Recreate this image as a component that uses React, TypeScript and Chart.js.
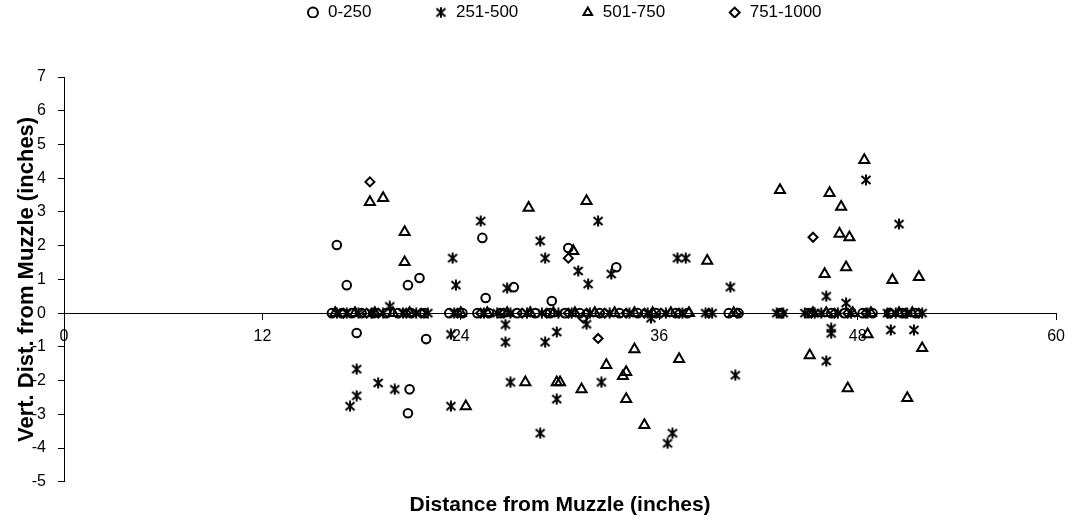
import { useEffect, useRef } from 'react';
import { Chart, registerables } from 'chart.js';

Chart.register(...registerables);

const seriesNames = ['0-250', '251-500', '501-750', '751-1000'];
const xTickStep = 12;
const xRange = [0, 60];
const yRange = [-5, 7];
const xTitle = 'Distance from Muzzle (inches)';
const yTitle = 'Vert. Dist. from Muzzle (inches)';

// 0-250 (circles)
const circleX = [16.5, 17.1, 17.7, 20.8, 21.5, 21.9, 20.9, 20.8, 25.3, 25.5, 27.2, 29.5, 30.5, 33.4,
  16.2, 16.8, 17.4, 18.0, 18.7, 19.5, 20.2, 21.0, 21.8, 23.3, 24.1, 25.0, 25.7, 26.4, 27.4, 28.5, 29.4, 30.3,
  31.2, 32.4, 33.6, 34.7, 35.8, 37.0, 37.7, 40.2, 40.8, 43.3, 45.0, 46.4, 47.2, 48.3, 48.9, 49.9, 50.7, 51.5];
const circleY = [2.02, 0.83, -0.59, 0.83, 1.04, -0.77, -2.26, -2.97, 2.23, 0.45, 0.77, 0.36, 1.93, 1.36,
  0, 0, 0, 0, 0, 0, 0, 0, 0, 0, 0, 0, 0, 0, 0, 0, 0, 0,
  0, 0, 0, 0, 0, 0, 0, 0, 0, 0, 0, 0, 0, 0, 0, 0, 0, 0];

// 251-500 (stars)
const starX = [19.7, 23.5, 23.7, 25.2, 23.4, 26.8, 26.7, 26.7, 27.0, 17.7, 19.0, 20.0, 17.7, 17.3, 23.4,
  28.8, 29.1, 32.3, 31.1, 31.7, 33.1, 37.1, 37.6, 40.3, 29.8, 29.1, 31.6, 29.8, 32.5, 28.8, 36.8, 36.5,
  40.6, 35.5, 48.5, 50.5, 46.1, 47.3, 46.4, 46.4, 46.1, 50.0, 51.4,
  16.5, 17.1, 17.8, 18.6, 19.3, 20.5, 21.3, 22.0, 23.6, 25.4, 26.2, 27.0, 28.0, 28.9, 29.9, 30.7, 31.8, 33.0,
  34.2, 35.3, 36.4, 37.4, 38.8, 39.2, 43.1, 43.5, 44.8, 45.4, 45.8, 46.8, 47.6, 48.6, 49.8, 50.3, 51.0, 51.9];
const starY = [0.2, 1.63, 0.83, 2.73, -0.63, 0.74, -0.34, -0.86, -2.05, -1.66, -2.07, -2.26, -2.45, -2.76, -2.76,
  2.14, 1.63, 2.73, 1.25, 0.86, 1.16, 1.63, 1.63, 0.77, -0.56, -0.86, -0.33, -2.55, -2.05, -3.56, -3.56, -3.86,
  -1.84, -0.15, 3.95, 2.64, 0.5, 0.3, -0.45, -0.6, -1.42, -0.5, -0.5,
  0, 0, 0, 0, 0, 0, 0, 0, 0, 0, 0, 0, 0, 0, 0, 0, 0, 0,
  0, 0, 0, 0, 0, 0, 0, 0, 0, 0, 0, 0, 0, 0, 0, 0, 0, 0];

// 501-750 (triangles)
const triX = [18.5, 19.3, 20.6, 20.6, 24.3, 28.1, 31.6, 30.8, 34.5, 32.8, 37.2, 34.0, 33.8, 27.9, 29.8, 30.0,
  31.3, 34.0, 35.1, 38.9, 43.3, 48.4, 46.3, 47.0, 46.9, 47.5, 47.3, 46.0, 50.1, 51.7, 45.1, 47.4, 51.0, 51.9, 48.6,
  16.4, 17.6, 18.8, 19.9, 20.9, 24.0, 25.6, 26.8, 28.2, 29.6, 30.9, 32.1, 33.3, 34.5, 35.6, 36.7, 37.8, 40.5,
  45.3, 46.1, 47.7, 48.8, 50.5, 51.3];
const triY = [3.29, 3.41, 2.4, 1.51, -2.76, 3.12, 3.32, 1.84, -1.07, -1.54, -1.36, -1.75, -1.87, -2.05, -2.05, -2.05,
  -2.26, -2.55, -3.32, 1.55, 3.65, 4.54, 3.56, 3.15, 2.35, 2.25, 1.36, 1.16, 0.98, 1.07, -1.25, -2.23, -2.52, -1.04, -0.63,
  0, 0, 0, 0, 0, 0, 0, 0, 0, 0, 0, 0, 0, 0, 0, 0, 0, 0,
  0, 0, 0, 0, 0, 0];

// 751-1000 (diamonds)
const diaX = [18.5, 30.5, 32.3, 31.4, 45.3,
  16.9, 18.3, 19.0, 20.7, 21.6, 23.8, 25.2, 26.6, 27.7, 29.2, 30.5, 31.6, 32.7, 34.0, 35.1, 36.1, 37.2, 39.0,
  40.7, 43.4, 45.2, 46.6, 47.4, 48.5, 50.0, 50.9, 51.7];
const diaY = [3.89, 1.63, -0.75, -0.15, 2.25,
  0, 0, 0, 0, 0, 0, 0, 0, 0, 0, 0, 0, 0, 0, 0, 0, 0, 0,
  0, 0, 0, 0, 0, 0, 0, 0, 0];

const FONT = "'Liberation Sans', Arial, Helvetica, sans-serif";

function pts(xs: number[], ys: number[]) {
  return xs.map((x, i) => ({ x, y: ys[i] }));
}

function makeStar(): HTMLCanvasElement {
  const c = document.createElement('canvas');
  c.width = 12;
  c.height = 12;
  const g = c.getContext('2d')!;
  g.strokeStyle = '#000';
  g.lineWidth = 2;
  g.beginPath();
  g.moveTo(1.5, 2); g.lineTo(10.5, 10);
  g.moveTo(10.5, 2); g.lineTo(1.5, 10);
  g.moveTo(6, 0.5); g.lineTo(6, 11.5);
  g.stroke();
  return c;
}

const legendShift = {
  id: 'legendShift',
  afterLayout(chart: any) {
    const lg = chart.legend;
    if (!lg) return;
    lg.left += 35;
    lg.right += 35;
    lg.top -= 59;
    lg.bottom -= 59;
  },
};

export default function App() {
  const ref = useRef<HTMLCanvasElement>(null);
  useEffect(() => {
    if (!ref.current) return;
    const star = makeStar();
    const common = {
      borderColor: '#000',
      backgroundColor: 'rgba(0,0,0,0)',
      borderWidth: 2,
      showLine: false,
    };
    const chart = new Chart(ref.current, {
      type: 'scatter',
      data: {
        datasets: [
          { ...common, label: seriesNames[0], data: pts(circleX, circleY), pointStyle: 'circle', pointRadius: 4.3 },
          { ...common, label: seriesNames[1], data: pts(starX, starY), pointStyle: star as any, pointRadius: 5 },
          { ...common, label: seriesNames[2], data: pts(triX, triY), pointStyle: 'triangle', pointRadius: 5.8 },
          { ...common, label: seriesNames[3], data: pts(diaX, diaY), pointStyle: 'rectRot', pointRadius: 4.5 },
        ],
      },
      options: {
        responsive: false,
        animation: false,
        events: [],
        layout: { padding: { left: 0, right: 15, top: 0, bottom: 0 } },
        plugins: {
          tooltip: { enabled: false },
          legend: {
            position: 'top',
            maxHeight: 77,
            labels: {
              usePointStyle: true,
              boxWidth: 13,
              boxHeight: 7,
              padding: 63,
              color: '#000',
              font: { family: FONT, size: 17 },
            },
          },
        },
        scales: {
          x: {
            type: 'linear',
            position: { y: 0 } as any,
            min: xRange[0],
            max: xRange[1],
            ticks: { stepSize: xTickStep, color: '#000', padding: 8, font: { family: FONT, size: 16 } },
            grid: { drawOnChartArea: false, drawTicks: true, tickLength: 6, color: '#000' },
            border: { color: '#000', width: 1 },
          },
          x2: {
            type: 'linear',
            position: 'bottom',
            min: xRange[0],
            max: xRange[1],
            ticks: { display: false },
            grid: { display: false, drawTicks: false },
            border: { display: false },
            title: {
              display: true,
              text: xTitle,
              color: '#000',
              font: { family: FONT, size: 21, weight: 'bold' },
              padding: { top: 11, bottom: 2 },
            },
          },
          y: {
            type: 'linear',
            min: yRange[0],
            max: yRange[1],
            ticks: { stepSize: 1, color: '#000', padding: 12, font: { family: FONT, size: 16 } },
            grid: { drawOnChartArea: false, drawTicks: true, tickLength: 6, color: '#000' },
            border: { color: '#000', width: 1 },
            title: {
              display: true,
              text: yTitle,
              color: '#000',
              font: { family: FONT, size: 22, weight: 'bold' },
              padding: { top: 14, bottom: 0 },
            },
            afterFit: (scale: any) => {
              scale.width = 64;
            },
          },
        },
      } as any,
      plugins: [legendShift],
    });
    return () => chart.destroy();
  }, []);
  return (
    <div style={{ position: 'fixed', left: 0, top: 0, width: 1073, height: 520, background: '#fff' }}>
      <canvas ref={ref} width={1073} height={520} style={{ width: 1073, height: 520 }} />
    </div>
  );
}
